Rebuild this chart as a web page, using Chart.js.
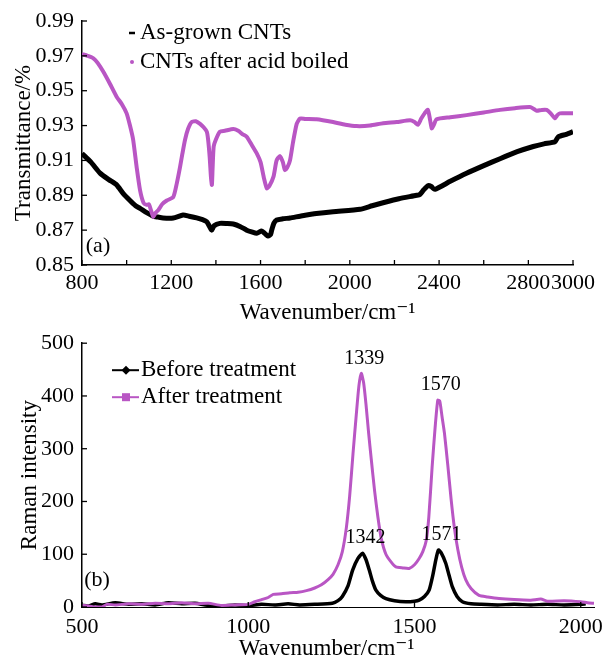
<!DOCTYPE html>
<html><head><meta charset="utf-8">
<script src="https://cdn.jsdelivr.net/npm/chart.js@4.4.0/dist/chart.umd.min.js"></script>
<style>
html,body{margin:0;padding:0;background:#fff;}
#wrap{position:relative;width:605px;height:663px;overflow:hidden;}
canvas{position:absolute;left:0;}
</style></head><body>
<div id="wrap">
<canvas id="c1" width="605" height="330" style="top:0"></canvas>
<canvas id="c2" width="605" height="333" style="top:330px"></canvas>
</div>
<script>
// ---------- (a) FTIR data ----------
const ftirXAsGrown = [800,840,881,920,955,985,1015,1040,1060,1090,1119,1140,1163,1209,1253,1280,1314,1340,1359,1372,1381,1392,1418,1450,1478,1510,1538,1560,1583,1605,1620,1634,1645,1650,1660,1672,1700,1732,1777,1850,1925,2046,2100,2149,2220,2299,2314,2330,2350,2365,2381,2450,2523,2600,2673,2750,2822,2870,2919,2934,2970,3000];
const ftirYAsGrown = [0.914,0.909,0.9027,0.899,0.896,0.891,0.887,0.884,0.8825,0.880,0.878,0.8775,0.877,0.877,0.8787,0.878,0.877,0.876,0.8748,0.872,0.870,0.8725,0.8739,0.8738,0.8735,0.872,0.870,0.869,0.8682,0.8695,0.868,0.8666,0.8675,0.870,0.874,0.8758,0.8765,0.877,0.878,0.8795,0.8806,0.882,0.884,0.8857,0.888,0.890,0.8905,0.893,0.8955,0.895,0.8934,0.898,0.9026,0.907,0.911,0.915,0.918,0.9195,0.9207,0.9236,0.925,0.9265];
const ftirXAcid = [800,825,851,870,895,925,955,980,1000,1015,1029,1045,1060,1076,1090,1100,1110,1119,1130,1142,1160,1180,1209,1225,1239,1250,1262,1275,1291,1310,1329,1345,1359,1365,1372,1378,1382,1385,1390,1400,1418,1440,1478,1500,1520,1538,1560,1583,1600,1615,1628,1640,1658,1672,1687,1700,1709,1720,1732,1745,1762,1777,1800,1851,1925,1980,2030,2090,2149,2210,2270,2290,2305,2320,2335,2350,2360,2367,2375,2389,2450,2523,2600,2673,2740,2807,2825,2837,2860,2882,2900,2919,2930,2941,2970,3000];
const ftirYAcid = [0.971,0.970,0.9686,0.966,0.961,0.954,0.9466,0.942,0.937,0.930,0.922,0.906,0.893,0.8856,0.8845,0.8848,0.881,0.8776,0.880,0.8815,0.885,0.887,0.889,0.897,0.906,0.914,0.922,0.928,0.932,0.9325,0.931,0.929,0.9265,0.922,0.912,0.900,0.896,0.905,0.918,0.922,0.9265,0.927,0.928,0.927,0.925,0.9236,0.919,0.914,0.909,0.900,0.894,0.8955,0.9007,0.910,0.9125,0.909,0.9045,0.906,0.910,0.920,0.931,0.934,0.9338,0.9336,0.932,0.9305,0.9297,0.930,0.9313,0.932,0.933,0.932,0.9305,0.934,0.937,0.939,0.933,0.9284,0.930,0.9336,0.9348,0.936,0.9375,0.939,0.940,0.9406,0.9395,0.9385,0.939,0.939,0.937,0.9342,0.936,0.937,0.937,0.937];
const ftirSeriesNames = ["As-grown CNTs","CNTs after acid boiled"];
const ftirYTicks = [0.85,0.87,0.89,0.91,0.93,0.95,0.97,0.99];
const ftirXTickLabels = [800,1200,1600,2000,2400,2800,3000];

// ---------- (b) Raman data ----------
const ramanXBefore = [500,520,540,560,600,640,680,720,760,800,840,880,920,960,1000,1040,1080,1120,1154,1200,1253,1270,1283,1300,1314,1330,1344,1354,1364,1374,1384,1398,1414,1440,1474,1500,1514,1530,1544,1555,1564,1572,1580,1594,1604,1614,1628,1644,1670,1700,1750,1800,1850,1900,1950,2000,2015];
const ramanYBefore = [3,2,6,4,8,5,6,4,8,6,7,3,2,4,3,5,4,6,4,5,7,12,20,40,70,92,102,90,70,48,32,22,16,12,10,11,13,20,32,60,89,108,103,83,60,38,20,10,6,5,4,5,4,5,4,5,6];
const ramanXAfter = [500,520,540,560,575,600,640,680,720,760,800,840,880,920,960,1000,1020,1040,1060,1075,1100,1125,1150,1175,1200,1220,1240,1255,1270,1283,1295,1305,1315,1325,1333,1340,1347,1354,1362,1370,1380,1390,1400,1414,1430,1444,1465,1484,1500,1514,1525,1535,1543,1553,1562,1570,1576,1583,1590,1600,1610,1620,1630,1642,1654,1670,1694,1720,1754,1800,1850,1880,1900,1950,2000,2020,2040];
const ramanYAfter = [3,2,0,0,5,4,6,5,7,6,8,6,7,3,4,5,10,14,18,24,25,27,28,31,36,42,52,62,80,105,150,210,290,365,420,443,425,385,330,280,220,170,130,100,85,76,74,73,80,92,105,125,170,265,340,392,390,360,330,270,205,150,110,75,52,35,22,19,16,14,13,15,11,12,10,8,7];
const ramanSeriesNames = ["Before treatment","After treatment"];
const ramanXTicks = [500,1000,1500,2000];
const ramanPeakX = [1340,1570,1344,1572];
const ramanPeakY = [443,392,102,108];
const ramanPeakText = ["1339","1570","1342","1571"];

const PURPLE = '#b956c4';
const FONT = "'Liberation Serif','DejaVu Serif',serif";
const FS_TICK = 22, FS_TITLE = 23, FS_LEG = 23, FS_PEAK = 20;

function pts(xs, ys){ return xs.map((x,i)=>({x:x,y:ys[i]})); }

// inward tick marks drawn from the library's scales
const inwardTicks = {
  id:'inwardTicks',
  afterDraw(chart){
    const ctx = chart.ctx; ctx.save(); ctx.strokeStyle='#000'; ctx.lineWidth=1.3;
    const xs = chart.scales.x, ys = chart.scales.y;
    xs.ticks.forEach(t=>{ const p = xs.getPixelForValue(t.value); ctx.beginPath(); ctx.moveTo(p, xs.top); ctx.lineTo(p, xs.top-5); ctx.stroke(); });
    ys.ticks.forEach(t=>{ const p = ys.getPixelForValue(t.value); ctx.beginPath(); ctx.moveTo(ys.right, p); ctx.lineTo(ys.right+5, p); ctx.stroke(); });
    ctx.restore();
  }
};

// custom legend + panel label + peak labels
const extras = {
  id:'extras',
  afterDatasetsDraw(chart, args, opts){
    const ctx = chart.ctx; ctx.save();
    ctx.textBaseline='middle'; ctx.fillStyle='#000';
    const ca = chart.chartArea;
    ctx.font = FS_LEG + 'px ' + FONT;
    (opts.legend||[]).forEach((it,i)=>{
      const ds = chart.data.datasets[i];
      const y = ca.top + it.y;
      const mx = ca.left + it.mx;
      ctx.strokeStyle = ds.borderColor; ctx.fillStyle = ds.borderColor;
      if (it.style==='dash'){ ctx.lineWidth=2.5; ctx.beginPath(); ctx.moveTo(mx-3,y); ctx.lineTo(mx+3,y); ctx.stroke(); }
      else if (it.style==='dot'){ ctx.beginPath(); ctx.arc(mx,y,2,0,Math.PI*2); ctx.fill(); }
      else {
        ctx.lineWidth=2; ctx.beginPath(); ctx.moveTo(mx-14,y); ctx.lineTo(mx+13,y); ctx.stroke();
        if (it.style==='diamond'){ ctx.beginPath(); ctx.moveTo(mx,y-4.5); ctx.lineTo(mx+4.5,y); ctx.lineTo(mx,y+4.5); ctx.lineTo(mx-4.5,y); ctx.closePath(); ctx.fill(); }
        else { ctx.fillRect(mx-4,y-4,8,8); }
      }
      ctx.fillStyle='#000'; ctx.textAlign='left';
      ctx.fillText(ds.label, ca.left + it.tx, y);
    });
    ctx.font = FS_TICK + 'px ' + FONT;
    if (opts.panel){ ctx.fillStyle='#000'; ctx.textAlign='center'; ctx.fillText(opts.panel.text, ca.left+opts.panel.dx, ca.bottom-opts.panel.dy); }
    ctx.font = FS_PEAK + 'px ' + FONT;
    if (opts.peaks){
      const xs = chart.scales.x, ys = chart.scales.y;
      opts.peaks.x.forEach((v,i)=>{
        ctx.textAlign='center';
        ctx.fillText(opts.peaks.text[i], xs.getPixelForValue(v)+3, ys.getPixelForValue(opts.peaks.y[i]) - 15);
      });
    }
    ctx.restore();
  }
};

function fixW(w){ return s=>{ s.width = w; }; }
function fixH(h){ return s=>{ s.height = h; }; }

// ---------- Chart (a) ----------
new Chart(document.getElementById('c1'), {
  type:'line',
  data:{ datasets:[
    {label:ftirSeriesNames[0], data:pts(ftirXAsGrown,ftirYAsGrown), borderColor:'#000', backgroundColor:'#000', borderWidth:5, pointRadius:0, tension:0.2, order:1},
    {label:ftirSeriesNames[1], data:pts(ftirXAcid,ftirYAcid), borderColor:PURPLE, backgroundColor:PURPLE, borderWidth:4, pointRadius:0, tension:0.2, order:0}
  ]},
  options:{
    responsive:false, animation:false, devicePixelRatio:1,
    layout:{padding:{left:0,top:21,right:32,bottom:0}},
    plugins:{ legend:{display:false}, tooltip:{enabled:false},
      extras:{ legend:[{style:'dash',mx:50,tx:58,y:12},{style:'dot',mx:50,tx:58,y:41}], panel:{text:'(a)',dx:16,dy:19} } },
    scales:{
      x:{ type:'linear', min:800, max:3000,
        ticks:{ stepSize:200, autoSkip:false, maxRotation:0, padding:1, color:'#000', font:{family:FONT,size:FS_TICK},
          callback:(v)=> ftirXTickLabels.includes(v) ? String(v) : '' },
        grid:{display:false, tickLength:4}, border:{display:true,color:'#000',width:1.5},
        title:{display:true, text:'Wavenumber/cm\u207B\u00B9', color:'#000', font:{family:FONT,size:FS_TITLE}, padding:{top:0,bottom:3}},
        afterFit: fixH(65) },
      y:{ min:0.85, max:0.99,
        afterBuildTicks: s=>{ s.ticks = ftirYTicks.map(v=>({value:v})); },
        ticks:{ padding:0, color:'#000', font:{family:FONT,size:FS_TICK}, callback:(v)=>Number(v).toFixed(2) },
        grid:{display:false}, border:{display:true,color:'#000',width:1.5},
        title:{display:true, text:'Transmittance/%', color:'#000', font:{family:FONT,size:FS_TITLE}, padding:{top:10,bottom:0}},
        afterFit: fixW(82) }
    }
  },
  plugins:[inwardTicks, extras]
});

// ---------- Chart (b) ----------
new Chart(document.getElementById('c2'), {
  type:'line',
  data:{ datasets:[
    {label:ramanSeriesNames[0], data:pts(ramanXBefore,ramanYBefore), borderColor:'#000', backgroundColor:'#000', borderWidth:3.5, pointRadius:0, tension:0.2, order:1},
    {label:ramanSeriesNames[1], data:pts(ramanXAfter,ramanYAfter), borderColor:PURPLE, backgroundColor:PURPLE, borderWidth:3, pointRadius:0, tension:0.2, order:0}
  ]},
  options:{
    responsive:false, animation:false, devicePixelRatio:1,
    layout:{padding:{left:0,top:13,right:10,bottom:0}},
    plugins:{ legend:{display:false}, tooltip:{enabled:false},
      extras:{ legend:[{style:'diamond',mx:44,tx:59,y:27},{style:'square',mx:44,tx:59,y:54}], panel:{text:'(b)',dx:15,dy:27},
        peaks:{x:ramanPeakX, y:ramanPeakY, text:ramanPeakText} } },
    scales:{
      x:{ type:'linear', min:500, max:2040,
        afterBuildTicks: s=>{ s.ticks = ramanXTicks.map(v=>({value:v})); },
        ticks:{ autoSkip:false, maxRotation:0, padding:2, color:'#000', font:{family:FONT,size:FS_TICK}, callback:(v)=>String(v) },
        grid:{display:false, tickLength:5}, border:{display:true,color:'#000',width:1},
        title:{display:true, text:'Wavenumber/cm\u207B\u00B9    ', color:'#000', font:{family:FONT,size:FS_TITLE}, padding:{top:0,bottom:0}},
        afterFit: fixH(56) },
      y:{ min:0, max:500,
        ticks:{ stepSize:100, padding:0, color:'#000', font:{family:FONT,size:FS_TICK} },
        grid:{display:false}, border:{display:true,color:'#000',width:1.5},
        title:{display:true, text:'Raman intensity', color:'#000', font:{family:FONT,size:FS_TITLE}, padding:{top:16,bottom:0}},
        afterFit: fixW(82) }
    }
  },
  plugins:[inwardTicks, extras]
});
</script>
</body></html>
